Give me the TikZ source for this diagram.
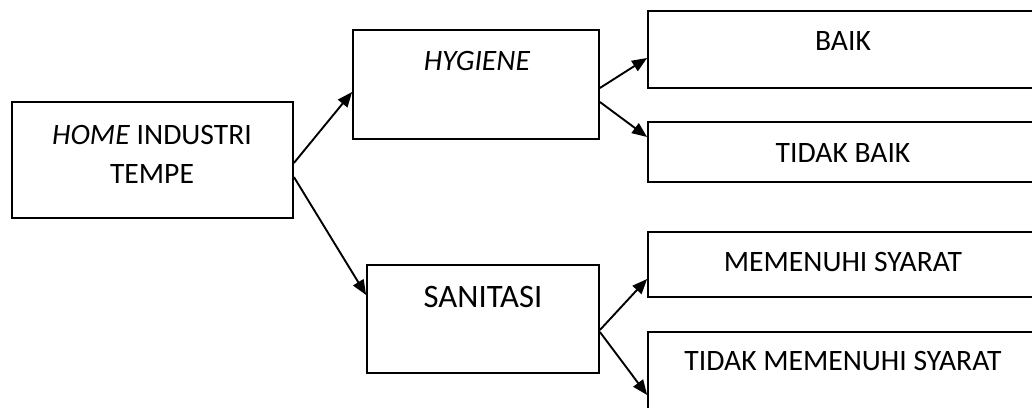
\documentclass[tikz,border=0pt]{standalone}
\usepackage{fontspec}
\setmainfont{Carlito}
\usetikzlibrary{arrows.meta}
\tikzset{
  box/.style={draw=black, line width=1.8pt, inner sep=0pt, fill=none},
  lbl/.style={inner sep=0pt, font=\fontsize{29.6}{35}\selectfont},
  biglbl/.style={inner sep=0pt, font=\fontsize{32.7}{38}\selectfont},
  conn/.style={line width=1.9pt, -{Triangle[length=15pt,width=12pt]}, shorten >=0pt}
}
\begin{document}
\begin{tikzpicture}[x=1pt,y=1pt]
\useasboundingbox (0,0) rectangle (1032,407);
\clip (0,0) rectangle (1032,407);
% boxes
\node[box, minimum width=281pt, minimum height=116pt] (home) at (152.5,247) {};
\node[box, minimum width=246pt, minimum height=109pt] (hyg) at (476,322.5) {};
\node[box, minimum width=232pt, minimum height=108pt] (san) at (483,88) {};
\node[box, minimum width=392pt, minimum height=77pt] (baik) at (844,357.5) {};
\node[box, minimum width=392pt, minimum height=60pt] (tbaik) at (844,255) {};
\node[box, minimum width=392pt, minimum height=65pt] (mem) at (844,142.5) {};
\node[box, minimum width=392pt, minimum height=88pt] (tmem) at (844,31) {};
% labels
\node[lbl] (homeA) at (152,272) {\textit{HOME} INDUSTRI};
\node[lbl] (homeB) at (152,233) {TEMPE};
\node[lbl] (hygT) at (477,346) {\textit{HYGIENE}};
\node[biglbl] (sanT) at (483,110) {SANITASI};
\node[lbl] (baikT) at (843,366) {BAIK};
\node[lbl] (tbaikT) at (843,254) {TIDAK BAIK};
\node[lbl] (memT) at (843,145) {MEMENUHI SYARAT};
\node[lbl] (tmemT) at (843,46) {TIDAK MEMENUHI SYARAT};
% connectors
\draw[conn] ([yshift=-3pt]home.east) -- ([yshift=-7.5pt]hyg.west);
\draw[conn] ([yshift=-17pt]home.east) -- ([yshift=24pt]san.west);
\draw[conn] ([yshift=-3.5pt]hyg.east) -- ([yshift=-8.5pt]baik.west);
\draw[conn] ([yshift=-17.5pt]hyg.east) -- ([yshift=15pt]tbaik.west);
\draw[conn] ([yshift=-11pt]san.east) -- ([yshift=-14.5pt]mem.west);
\draw[conn] ([yshift=-13pt]san.east) -- ([yshift=-19pt]tmem.west);
\end{tikzpicture}
\end{document}
